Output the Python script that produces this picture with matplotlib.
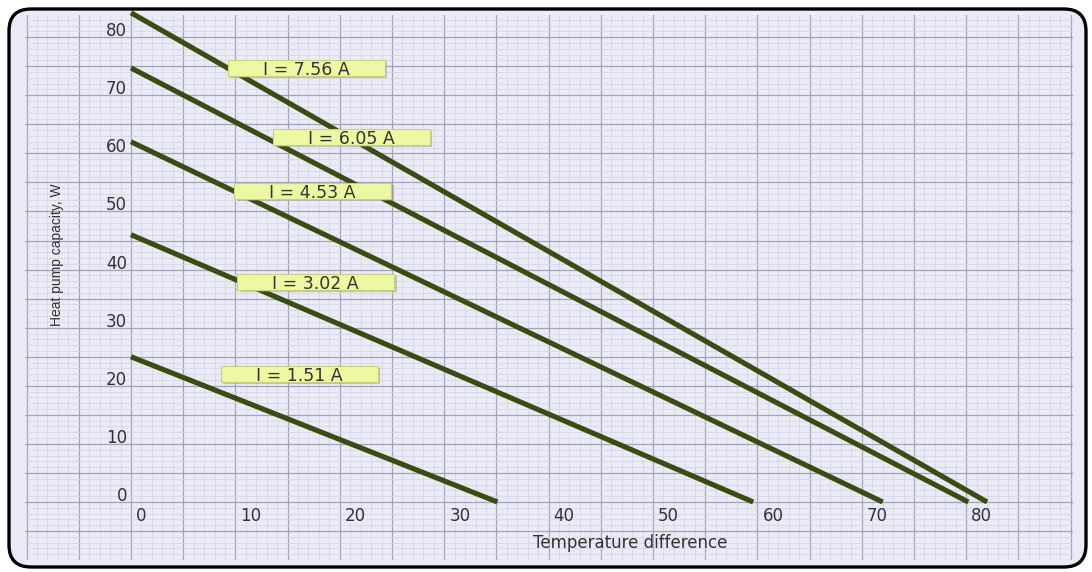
import matplotlib.pyplot as plt
import matplotlib.transforms as mtransforms
from matplotlib.patches import FancyBboxPatch, Rectangle
import numpy as np

# Heat pump capacity lines: capacity at dT = 0 and max temperature difference
currents = ['1.51', '3.02', '4.53', '6.05', '7.56']
q_max = [25.0, 46.0, 62.0, 74.7, 84.2]
dt_max = [35.1, 59.6, 72.0, 80.2, 82.0]

# where the current labels sit (box centre, data units)
label_x = [16.1, 17.7, 17.4, 21.1, 16.8]
label_y = [22.0, 37.9, 53.5, 62.8, 74.7]

x_ticks = [0, 10, 20, 30, 40, 50, 60, 70, 80]
y_ticks = [0, 10, 20, 30, 40, 50, 60, 70, 80]

line_color = '#384d0f'
text_color = '#333333'
panel_color = '#ebebf7'

fig = plt.figure(figsize=(10.92, 5.72), dpi=100)

# rounded panel with black border (pixel coordinates)
panel = FancyBboxPatch((9, 5), 1077, 558, boxstyle='round,pad=0,rounding_size=22',
                       transform=mtransforms.IdentityTransform(),
                       facecolor=panel_color, edgecolor='black', linewidth=2.4, zorder=0)
fig.add_artist(panel)

ax = fig.add_axes([25 / 1092, 12 / 572, 1048 / 1092, 545 / 572])
ax.set_facecolor(panel_color)
for s in ax.spines.values():
    s.set_visible(False)

ax.set_xlim(-10.153, 90.23)
ax.set_ylim(-9.983, 83.82)

# graph paper grid
ax.set_xticks(np.arange(-10, 91, 5))
ax.set_xticks(np.arange(-10, 91, 1), minor=True)
ax.set_yticks(np.arange(-5, 84, 5))
ax.set_yticks(np.arange(-9, 84, 1), minor=True)
ax.tick_params(which='both', length=0, labelbottom=False, labelleft=False)
ax.grid(which='minor', color='#d6d6e8', linewidth=0.6)
ax.grid(which='major', color='#a2a2b8', linewidth=0.9)
ax.set_axisbelow(True)

# the lines
for q, dt in zip(q_max, dt_max):
    ax.plot([0, dt], [q, 0], color=line_color, linewidth=3.7,
            solid_capstyle='butt', clip_on=False, zorder=3)

# tick labels drawn inside the paper
xt = mtransforms.offset_copy(ax.transData, fig=fig, x=5, y=-5, units='dots')
for v in x_ticks:
    ax.text(v, 0, str(v), transform=xt, ha='left', va='top',
            fontsize=12, color=text_color, family='DejaVu Sans')
yt = mtransforms.offset_copy(ax.transData, fig=fig, x=-4, y=1, units='dots')
for v in y_ticks:
    ax.text(0, v, str(v), transform=yt, ha='right', va='baseline',
            fontsize=12, color=text_color, family='DejaVu Sans')

ax.text(630 / 1092, 1 - 543 / 572, 'Temperature difference', transform=fig.transFigure,
        ha='center', va='center', fontsize=12, color=text_color, family='DejaVu Sans')
ax.text(57 / 1092, 1 - 255 / 572, 'Heat pump capacity, W', transform=fig.transFigure,
        rotation=90, ha='center', va='center', fontsize=10, color=text_color,
        family='Liberation Sans')

# current label boxes with a soft shadow
for cur, lx, ly in zip(currents, label_x, label_y):
    anchor = mtransforms.ScaledTranslation(lx, ly, ax.transData)
    shadow = Rectangle((-76, -10), 157, 16, transform=mtransforms.IdentityTransform() + anchor,
                       facecolor='#8a8a8a', edgecolor='none', alpha=0.45,
                       zorder=4, clip_on=False)
    box = Rectangle((-78.5, -8), 157, 16, transform=mtransforms.IdentityTransform() + anchor,
                    facecolor='#eef7a2', edgecolor='#c9d27a', linewidth=0.8,
                    zorder=5, clip_on=False)
    ax.add_artist(shadow)
    ax.add_artist(box)
    ax.text(lx, ly, 'I = ' + cur + ' A', ha='center', va='center_baseline', fontsize=12.5,
            color=text_color, family='DejaVu Sans', zorder=6)

fig.savefig('out.png', dpi=100)
